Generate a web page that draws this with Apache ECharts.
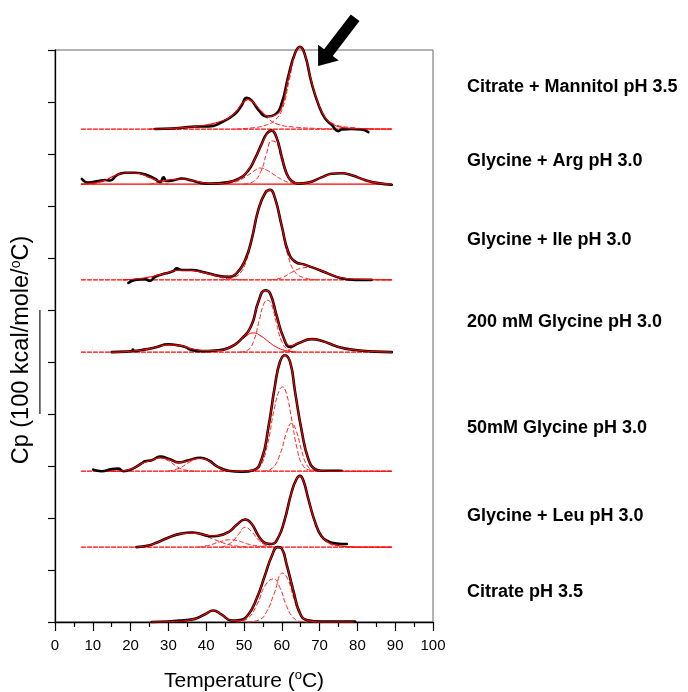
<!DOCTYPE html>
<html>
<head>
<meta charset="utf-8">
<script src="https://cdn.jsdelivr.net/npm/echarts@6/dist/echarts.min.js"></script>
<style>
  html, body { margin: 0; padding: 0; background: #fff; }
  #main { width: 688px; height: 692px; }
</style>
</head>
<body>
<div id="main"></div>
<script>
// heights are in tick units above each trace's own baseline (1 unit = 50 kcal/mole/oC)
var sampleNames = ['Citrate + Mannitol pH 3.5', 'Glycine + Arg pH 3.0', 'Glycine + Ile pH 3.0',
    '200 mM Glycine pH 3.0', '50mM Glycine pH 3.0', 'Glycine + Leu pH 3.0', 'Citrate pH 3.5'];
var offsets = [9.48, 8.42, 6.58, 5.19, 2.90, 1.44, 0];
var labelY = [10.29, 8.86, 7.35, 5.77, 3.73, 2.04, 0.58];
var xTicks = [0, 10, 20, 30, 40, 50, 60, 70, 80, 90, 100];

// Citrate + Mannitol
var mannitolExp = [[26.5,0],[30.9,0.01],[34,0.03],[37,0.05],[40.6,0.05],[44.1,0.13],[47.6,0.29],[49.4,0.46],
    [50.7,0.6],[52,0.55],[53.8,0.37],[56,0.24],[58.2,0.28],[60,0.5],[61.7,1.01],[63.5,1.46],[64.8,1.58],
    [66.1,1.43],[67.9,0.88],[69.7,0.47],[71.4,0.21],[73.2,0.08],[75,-0.04],[75.8,-0.01],[78.5,0],[81.1,-0.01],[82.9,-0.06]];
var mannitolFit = [[25,0],[30,0.01],[37,0.05],[44,0.15],[47.6,0.31],[49.5,0.49],[51,0.57],[52.5,0.51],[54.5,0.35],
    [56.5,0.24],[58,0.26],[60,0.42],[61.7,0.98],[63.5,1.45],[64.8,1.58],[66.1,1.43],[67.9,0.9],[69.7,0.48],
    [71.5,0.22],[73.5,0.09],[76,0.03],[80,0.01],[89,0]];
var mannitolPart1 = [[28,0],[36,0.03],[42,0.1],[46,0.22],[48.5,0.4],[50,0.52],[51,0.55],[52.5,0.5],[54.5,0.33],
    [56.5,0.19],[59,0.09],[63,0.04],[70,0.01],[76,0]];
var mannitolPart2 = [[48,0],[53,0.03],[56,0.08],[58,0.16],[60,0.36],[62,0.95],[63.5,1.42],[64.8,1.58],[66.1,1.42],
    [67.9,0.88],[69.7,0.46],[71.5,0.22],[74,0.09],[78,0.03],[84,0]];

// Glycine + Arg
var argExp = [[7.1,0.1],[8.8,0.03],[11.5,0.06],[13.2,0.08],[14.6,0.07],[16.3,0.17],[18.5,0.22],[21.2,0.22],
    [23.8,0.19],[26.5,0.1],[27.8,0.04],[28.7,0.13],[29.5,0.06],[31.7,0.08],[33.5,0.11],[36.2,0.07],[38.8,0.02],
    [41.4,0.01],[45,0.03],[48.5,0.1],[51.1,0.26],[52.9,0.49],[54.7,0.78],[56,0.97],[57.3,1.03],[58.6,0.9],
    [60,0.52],[61.3,0.2],[62.6,0.06],[64.4,0.01],[67,0.03],[70.5,0.13],[73.2,0.2],[75.8,0.21],[78.5,0.17],
    [82,0.08],[85.5,0.02],[89.1,-0.01]];
var argFit = [[7,0],[10,0.02],[13,0.07],[16,0.17],[19,0.22],[22,0.21],[25,0.13],[28,0.06],[31,0.09],[34,0.1],
    [37,0.06],[40,0.02],[43,0.01],[46,0.04],[49,0.12],[51,0.26],[53,0.5],[55,0.82],[56.5,1.0],[57.5,1.03],
    [58.6,0.9],[60,0.52],[61.3,0.2],[62.6,0.06],[64.5,0.01],[67,0.03],[70.5,0.13],[73.5,0.2],[76,0.21],
    [79,0.16],[82,0.08],[85.5,0.02],[89,0]];
var argPart1 = [[10,0],[13,0.06],[16,0.16],[19,0.21],[22,0.2],[25,0.12],[28,0.03],[30,0]];
var argPart2 = [[25,0],[28,0.04],[31,0.09],[34,0.1],[37,0.06],[40,0.02],[43,0]];
var argPart3 = [[44,0],[48,0.05],[51,0.17],[53,0.27],[54.3,0.31],[56,0.27],[58,0.18],[60,0.09],[62,0.03],[65,0]];
var argPart4 = [[50,0],[52.5,0.05],[54.5,0.25],[56,0.6],[57.3,0.83],[58.5,0.8],[60,0.45],[61.3,0.17],[62.6,0.05],[64,0]];
var argPart5 = [[64,0],[67,0.03],[70.5,0.13],[73.5,0.2],[76,0.21],[79,0.16],[82,0.08],[85.5,0.02],[89,0]];

// Glycine + Ile
var ileExp = [[19.4,-0.06],[21.2,0],[23.8,0.01],[25.1,-0.02],[26.5,0.06],[29.1,0.12],[31.3,0.17],[32.2,0.22],
    [33.5,0.19],[36.2,0.19],[39.7,0.14],[43.2,0.08],[45.9,0.06],[48.1,0.13],[50.3,0.38],[52,0.77],[53.8,1.35],
    [55.6,1.67],[56.9,1.73],[58.2,1.57],[60,1.03],[61.7,0.54],[63.5,0.35],[66.1,0.29],[68.8,0.22],[72.3,0.12],
    [75.8,0.03],[79.4,0],[83.8,0]];
var ileFit = [[18,0],[22,0.02],[26,0.07],[29,0.12],[32,0.18],[35,0.19],[38,0.16],[41,0.11],[44,0.07],[46,0.07],
    [48,0.13],[50.3,0.38],[52,0.77],[53.8,1.35],[55.6,1.67],[56.9,1.73],[58.2,1.57],[60,1.03],[61.7,0.54],
    [63.5,0.35],[66,0.29],[69,0.22],[72.3,0.12],[75.8,0.04],[80,0.01],[89,0]];
var ilePart1 = [[20,0],[24,0.03],[28,0.1],[31,0.16],[34,0.19],[37,0.17],[40,0.12],[43,0.06],[46,0.02],[50,0]];
var ilePart2 = [[44,0],[47,0.04],[49,0.13],[50.5,0.34],[52,0.74],[53.8,1.33],[55.6,1.66],[56.9,1.72],[58.2,1.55],
    [60,1.0],[61.7,0.45],[63.5,0.15],[65.5,0.05],[69,0]];
var ilePart3 = [[57,0],[60,0.04],[62.5,0.14],[65,0.22],[67.5,0.24],[70,0.2],[72.5,0.12],[75.5,0.04],[80,0]];

// 200 mM Glycine
var g200Exp = [[15,0],[19,0.01],[20.3,0.02],[20.6,0.05],[21,0.02],[22.9,0.04],[26.5,0.09],[30,0.15],[32.6,0.13],
    [34.8,0.09],[35.7,0.05],[38.8,0.02],[42.3,0.03],[45.9,0.08],[49.4,0.26],[52,0.52],[53.8,0.97],[55.6,1.19],
    [56.9,1.13],[58.6,0.71],[60.4,0.29],[62.2,0.1],[64.4,0.17],[67.9,0.25],[70.5,0.22],[75,0.1],[79.4,0.04],
    [84.7,0.01],[89.1,0]];
var g200Fit = [[15,0],[19,0.01],[23,0.04],[26.5,0.09],[30,0.14],[33,0.13],[36,0.07],[39,0.03],[42.3,0.03],
    [45.9,0.08],[49.4,0.26],[52,0.52],[53.8,0.97],[55.6,1.19],[56.9,1.13],[58.6,0.71],[60.4,0.29],[62.2,0.12],
    [64.4,0.17],[67.9,0.25],[70.5,0.22],[75,0.1],[79.4,0.04],[84.7,0.01],[89,0]];
var g200Part1 = [[17,0],[21,0.02],[25,0.07],[28,0.12],[30.5,0.14],[33,0.12],[36,0.06],[39,0.02],[42,0]];
var g200Part2 = [[40,0],[44,0.05],[47,0.14],[50,0.28],[52.5,0.37],[54.5,0.31],[56.5,0.2],[58.5,0.1],[61,0.03],[64,0]];
var g200Part3 = [[49,0],[51,0.04],[52.5,0.2],[54,0.6],[55.2,0.92],[56.2,1.0],[57.2,0.93],[58.6,0.55],[60,0.2],[61.5,0.05],[63,0]];
var g200Part4 = [[60,0],[62,0.05],[64.5,0.17],[67.5,0.25],[70,0.22],[73,0.15],[76,0.08],[80,0.03],[85,0]];

// 50mM Glycine
var g50Exp = [[10.1,0.03],[12.3,0],[15,0.04],[16.8,0.05],[18.1,0],[20.3,0.04],[22.9,0.15],[23.8,0.19],[25.6,0.21],
    [27.8,0.28],[30.4,0.23],[32.6,0.17],[35.3,0.21],[38.4,0.26],[40.6,0.21],[43.2,0.08],[45.9,0.01],[49.4,-0.01],
    [52.5,0.02],[54.7,0.24],[56.4,0.82],[58.2,1.65],[59.5,2.1],[60.8,2.23],[62.2,2.1],[63.5,1.53],[65.3,0.76],
    [67,0.24],[68.8,0.04],[70.5,0.01],[75.8,0.01]];
var g50Fit = [[14,0],[18,0.01],[20.5,0.05],[23,0.15],[25.6,0.21],[27.8,0.26],[30.4,0.22],[32.6,0.17],[35.3,0.2],
    [38.4,0.25],[40.6,0.2],[43.2,0.08],[45.9,0.01],[49.4,0],[52.5,0.02],[54.7,0.24],[56.4,0.82],[58.2,1.65],
    [59.5,2.1],[60.8,2.23],[62.2,2.1],[63.5,1.53],[65.3,0.76],[67,0.24],[68.8,0.04],[70.5,0.01],[75,0],[89,0]];
var g50Part1 = [[17,0],[20,0.04],[23,0.15],[25.5,0.21],[27.8,0.25],[30,0.2],[32,0.1],[34,0.03],[37,0]];
var g50Part2 = [[30,0],[33,0.06],[35.5,0.17],[38.4,0.25],[40.6,0.2],[43,0.08],[45.5,0.01],[48,0]];
var g50Part3 = [[52,0],[54,0.06],[56,0.45],[58,1.2],[59.3,1.55],[60.2,1.62],[61.2,1.5],[62.5,1.05],[64,0.45],
    [65.5,0.12],[67.5,0.02],[70,0]];
var g50Part4 = [[55,0],[57.5,0.06],[59.5,0.32],[61.3,0.75],[62.6,0.92],[63.8,0.78],[65.3,0.38],[66.8,0.1],[68.5,0.02],[71,0]];

// Glycine + Leu
var leuExp = [[21.6,0],[24.7,0.03],[27.3,0.1],[30.9,0.21],[33.5,0.26],[36.2,0.28],[38.8,0.25],[41,0.21],[43.2,0.22],
    [45.9,0.29],[48.1,0.43],[50.3,0.53],[52,0.45],[53.8,0.22],[55.6,0.08],[57.3,0.06],[59.1,0.19],[60.8,0.54],
    [62.6,1.06],[63.9,1.31],[64.8,1.37],[65.7,1.28],[67,0.93],[68.8,0.48],[70.5,0.21],[72.3,0.11],[74.5,0.07],[77.2,0.06]];
var leuFit = [[21.6,0],[24.7,0.03],[27.3,0.1],[30.9,0.21],[33.5,0.26],[36.2,0.27],[38.8,0.25],[41,0.22],[43.2,0.22],
    [45.9,0.29],[48.1,0.43],[50.3,0.53],[52,0.45],[53.8,0.22],[55.6,0.08],[57.3,0.06],[59.1,0.19],[60.8,0.54],
    [62.6,1.06],[63.9,1.31],[64.8,1.37],[65.7,1.28],[67,0.93],[68.8,0.48],[70.5,0.21],[72.3,0.09],[75,0.03],[80,0],[89,0]];
var leuPart1 = [[21,0],[25,0.03],[28,0.12],[31,0.21],[34,0.26],[36.5,0.27],[39,0.23],[42,0.15],[45,0.07],[48,0.02],[52,0]];
var leuPart2 = [[38,0],[41,0.04],[43.5,0.1],[46,0.14],[48.5,0.12],[51,0.06],[54,0.02],[58,0]];
var leuPart3 = [[44,0],[46.5,0.08],[48.5,0.24],[50.3,0.38],[52,0.3],[53.8,0.14],[55.5,0.05],[58,0]];
var leuPart4 = [[53,0],[56,0.03],[58,0.09],[59.5,0.24],[61,0.55],[62.6,1.06],[63.9,1.31],[64.8,1.37],[65.7,1.28],
    [67,0.93],[68.8,0.48],[70.5,0.2],[72.5,0.07],[75,0.02],[80,0]];

// Citrate
var citExp = [[25.6,0],[30,0.01],[33.5,0.03],[37,0.06],[39.7,0.15],[41.9,0.22],[44.1,0.14],[46.7,0.03],[48.9,0.04],
    [51.1,0.14],[53.4,0.46],[55.6,0.91],[57.3,1.26],[58.9,1.44],[60,1.41],[61.3,1.1],[63.1,0.59],[64.8,0.17],
    [66.6,0.04],[70.5,0.01],[79.4,0.01]];
var citFit = [[25.6,0],[33.5,0.02],[37,0.06],[39.7,0.15],[41.9,0.22],[44.1,0.14],[46.7,0.03],[48.9,0.03],[51.1,0.14],
    [53.4,0.46],[55.6,0.91],[57.3,1.26],[58.9,1.44],[60,1.41],[61.3,1.1],[63.1,0.59],[64.8,0.17],[66.6,0.04],[70.5,0],[79,0]];
var citPart1 = [[30,0],[34,0.02],[37,0.06],[39.7,0.15],[41.9,0.22],[44,0.14],[46,0.04],[49,0]];
var citPart2 = [[48,0],[51,0.07],[53.4,0.33],[55.6,0.7],[57.8,0.83],[59.5,0.66],[61.3,0.3],[63.1,0.08],[65,0.01],[67,0]];
var citPart3 = [[51,0],[54,0.04],[56,0.2],[58,0.55],[60.2,0.94],[61.6,0.82],[63.2,0.45],[64.8,0.14],[66.5,0.03],[69,0]];

var baseRange = [7, 89];

var samples = [
    {exp: mannitolExp, fit: mannitolFit, parts: [mannitolPart1, mannitolPart2], solid: [], solidBase: false},
    {exp: argExp, fit: argFit, parts: [argPart1, argPart2, argPart3, argPart4, argPart5], solid: [], solidBase: true},
    {exp: ileExp, fit: ileFit, parts: [ilePart1, ilePart2, ilePart3], solid: [], solidBase: false},
    {exp: g200Exp, fit: g200Fit, parts: [g200Part1, g200Part3, g200Part4], solid: [g200Part2], solidBase: false},
    {exp: g50Exp, fit: g50Fit, parts: [g50Part1, g50Part2, g50Part3, g50Part4], solid: [], solidBase: false},
    {exp: leuExp, fit: leuFit, parts: [leuPart1, leuPart2, leuPart3, leuPart4], solid: [], solidBase: false},
    {exp: citExp, fit: citFit, parts: [citPart1, citPart2, citPart3], solid: [], solidBase: null}
];

function shift(points, off) {
    return points.map(function (p) { return [p[0], p[1] + off]; });
}

function lineSeries(data, color, width, type, z, smooth) {
    return {
        type: 'line', data: data, symbol: 'none', smooth: smooth,
        clip: false, silent: true, animation: false, z: z,
        lineStyle: {color: color, width: width, type: type, cap: 'round', join: 'round'}
    };
}

var series = [];
for (var i = 0; i < samples.length; i++) {
    var s = samples[i];
    var off = offsets[i];
    if (s.solidBase !== null) {
        series.push(lineSeries([[baseRange[0], off], [baseRange[1], off]], '#ff0000', 1.3,
            s.solidBase ? 'solid' : [4, 2], 2, false));
    }
    for (var j = 0; j < s.parts.length; j++) {
        series.push(lineSeries(shift(s.parts[j], off), '#ff2020', 1, [4, 3], 3, 0.5));
    }
    for (var k = 0; k < s.solid.length; k++) {
        series.push(lineSeries(shift(s.solid[k], off), '#ff0000', 1, 'solid', 3, 0.5));
    }
    series.push(lineSeries(shift(s.exp, off), '#000000', 2.6, 'solid', 4, 0.5));
    series.push(lineSeries(shift(s.fit, off), '#ff0000', 1.1, 'solid', 5, 0.5));
}

var font = 'Liberation Sans, Arial, sans-serif';
var myChart = echarts.init(document.getElementById('main'));

option = {
    backgroundColor: '#fff',
    animation: false,
    grid: {left: 55, right: 255, top: 50, bottom: 70, show: true, borderColor: '#666', borderWidth: 1,
        containLabel: false, outerBoundsMode: 'none'},
    xAxis: {
        type: 'value', min: 0, max: 100, interval: 10,
        name: 'Temperature ({sup|o}C)', nameLocation: 'middle', nameGap: 47,
        nameTextStyle: {fontFamily: font, fontSize: 21, color: '#000',
            rich: {sup: {fontFamily: font, fontSize: 13, color: '#000', verticalAlign: 'top', lineHeight: 24}}},
        axisLine: {lineStyle: {color: '#000', width: 1.3}},
        axisTick: {inside: false, length: 9, lineStyle: {color: '#000', width: 1.2}},
        minorTick: {show: true, splitNumber: 2, length: 5, lineStyle: {color: '#000', width: 1.2}},
        axisLabel: {fontFamily: font, fontSize: 15, color: '#000', margin: 16,
            formatter: function (v) { return xTicks.indexOf(v) >= 0 ? String(v) : ''; }},
        splitLine: {show: false}
    },
    yAxis: {
        type: 'value', min: 0, max: 11, interval: 1,
        axisLine: {show: true, lineStyle: {color: '#000', width: 1.3}},
        axisTick: {show: true, inside: false, length: 7, lineStyle: {color: '#000', width: 1.2}},
        axisLabel: {show: false},
        splitLine: {show: false}
    },
    series: series
};
myChart.setOption(option);

// annotations placed through the chart's own scales
var toPx = function (x, y) { return myChart.convertToPixel({gridIndex: 0}, [x, y]); };
var graphics = [];
for (var n = 0; n < sampleNames.length; n++) {
    var p = toPx(109, labelY[n]);
    graphics.push({
        type: 'text', x: p[0], y: p[1], silent: true,
        style: {text: sampleNames[n], fontFamily: font, fontSize: 18, fontWeight: 'bold', fill: '#000',
            align: 'left', verticalAlign: 'middle'}
    });
}
// scale bar next to the y title: 2 tick units = 100 kcal/mole/oC
var sb0 = toPx(-4, 4), sb1 = toPx(-4, 6);
graphics.push({type: 'line', silent: true, shape: {x1: sb0[0], y1: sb0[1], x2: sb1[0], y2: sb1[1]},
    style: {stroke: '#444', lineWidth: 1.5}});
// y title
var yt = toPx(-8.8, 5.23);
graphics.push({
    type: 'text', x: yt[0], y: yt[1], rotation: Math.PI / 2, silent: true,
    style: {text: 'Cp (100 kcal/mole/{sup|o}C)', fontFamily: font, fontSize: 23.5, fill: '#000',
        align: 'center', verticalAlign: 'middle',
        rich: {sup: {fontFamily: font, fontSize: 14, fill: '#000', verticalAlign: 'top', lineHeight: 26}}}
});
// arrow pointing at the mannitol main peak
var tip = toPx(69.6, 10.69), tail = toPx(79.4, 11.62);
var dx = tip[0] - tail[0], dy = tip[1] - tail[1];
var len = Math.sqrt(dx * dx + dy * dy);
var ux = dx / len, uy = dy / len, nx = -uy, ny = ux;
var headLen = 17, headW = 13, shaftW = 5.5;
var bx = tip[0] - ux * headLen, by = tip[1] - uy * headLen;
graphics.push({
    type: 'polygon', silent: true,
    shape: {points: [
        [tail[0] + nx * shaftW, tail[1] + ny * shaftW],
        [bx + nx * shaftW, by + ny * shaftW],
        [bx + nx * headW, by + ny * headW],
        [tip[0], tip[1]],
        [bx - nx * headW, by - ny * headW],
        [bx - nx * shaftW, by - ny * shaftW],
        [tail[0] - nx * shaftW, tail[1] - ny * shaftW]
    ]},
    style: {fill: '#000'}
});
myChart.setOption({graphic: graphics});
</script>
</body>
</html>
